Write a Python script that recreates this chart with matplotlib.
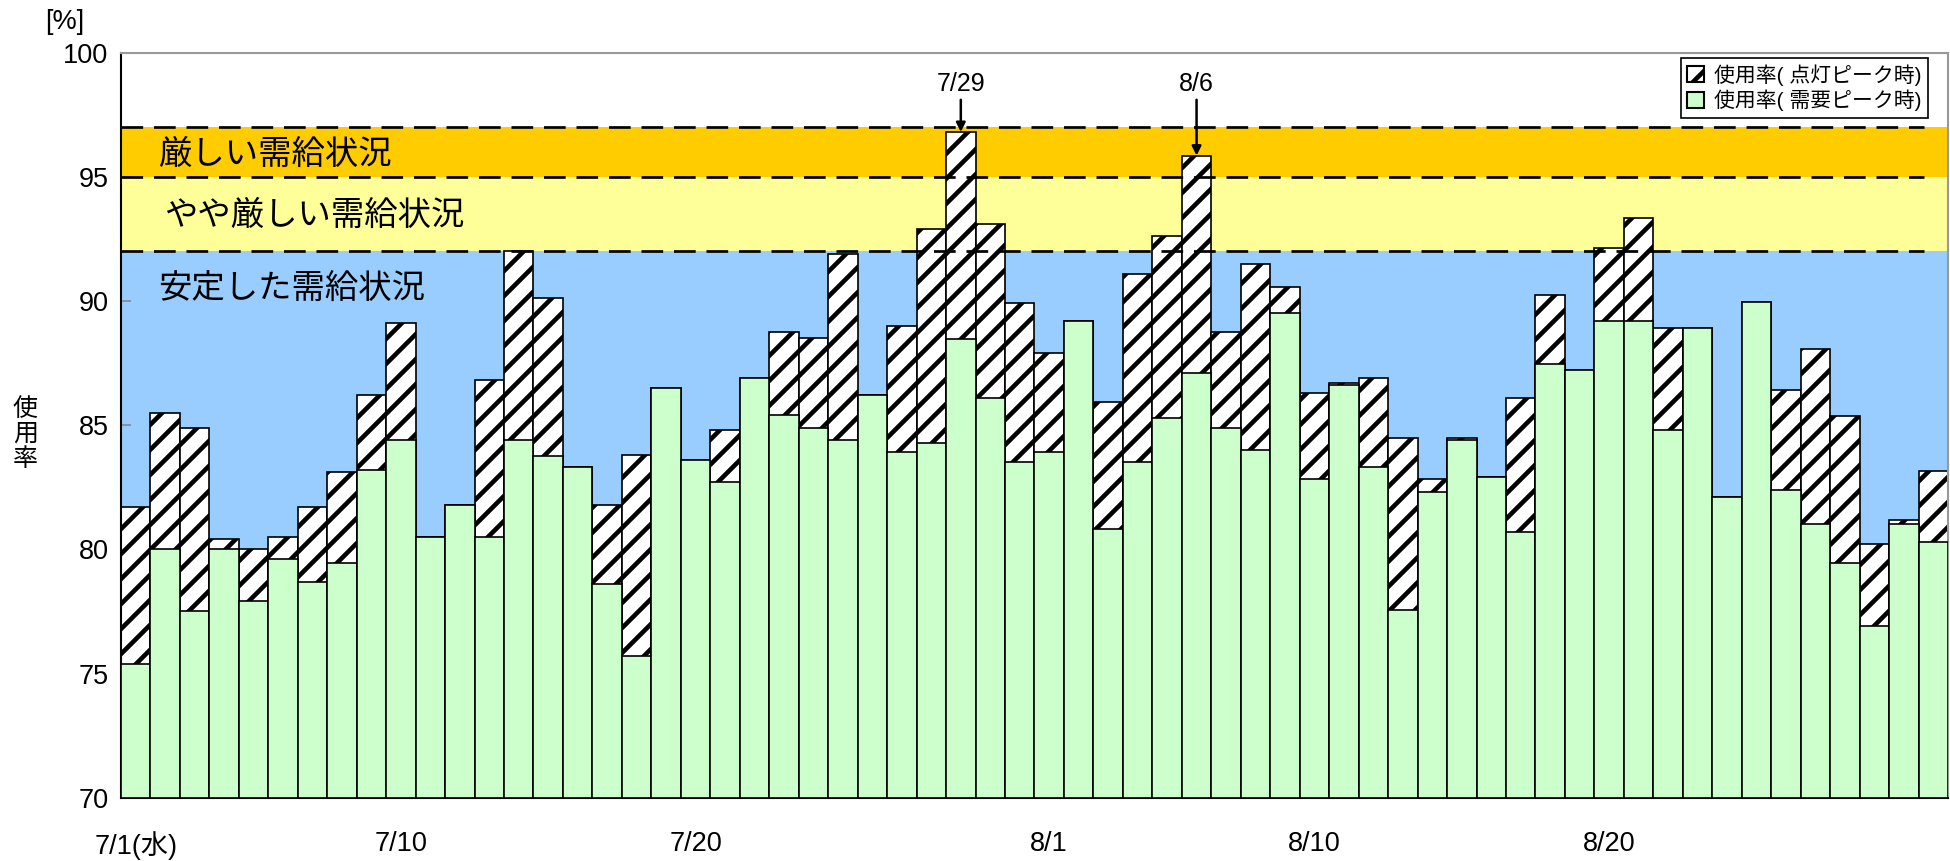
"""
Daily usage rate chart (July - August): lighting peak vs demand peak.
"""

import matplotlib
matplotlib.use("Agg")
import matplotlib.pyplot as plt
from matplotlib.patches import Patch
import numpy as np

plt.rcParams["font.family"] = ["Liberation Sans", "Noto Sans CJK JP", "DejaVu Sans"]
plt.rcParams["hatch.linewidth"] = 2.2

# usage rate at lighting peak (hatched), 7/1 .. 8/31
lighting_peak = [
    81.7, 85.5, 84.9, 80.4, 80.0, 80.5, 81.7, 83.1, 86.2, 89.1,
    80.5, 81.8, 86.8, 92.0, 90.1, 83.3, 81.8, 83.8, 86.5, 83.6,
    84.8, 86.9, 88.75, 88.5, 91.9, 86.2, 89.0, 92.9, 96.8, 93.1,
    89.9, 87.9, 89.2, 85.95, 91.1, 92.6, 95.85, 88.75, 91.5, 90.55,
    86.3, 86.7, 86.9, 84.5, 82.85, 84.5, 82.9, 86.1, 90.25, 87.2,
    92.15, 93.35, 88.9, 88.9, 82.1, 89.95, 86.4, 88.05, 85.35, 80.2,
    81.2, 83.15,
]
# usage rate at demand peak (green)
demand_peak = [
    75.4, 80.0, 77.5, 80.0, 77.9, 79.6, 78.7, 79.45, 83.2, 84.4,
    80.5, 81.8, 80.5, 84.4, 83.75, 83.3, 78.6, 75.7, 86.5, 83.6,
    82.7, 86.9, 85.4, 84.9, 84.4, 86.2, 83.9, 84.3, 88.45, 86.1,
    83.5, 83.9, 89.2, 80.8, 83.5, 85.3, 87.1, 84.9, 84.0, 89.5,
    82.85, 86.6, 83.3, 77.55, 82.3, 84.4, 82.9, 80.7, 87.45, 87.2,
    89.2, 89.2, 84.8, 88.9, 82.1, 89.95, 82.4, 81.0, 79.45, 76.9,
    81.0, 80.3,
]
tick_days = [1, 10, 20, 32, 41, 51]
tick_labels = ["7/1(水)", "7/10", "7/20", "8/1", "8/10", "8/20"]

# supply situation bands: (lower, upper, colour, label)
bands = [
    (70, 92, "#99CCFF", "安定した需給状況"),
    (92, 95, "#FFFF99", "やや厳しい需給状況"),
    (95, 97, "#FFCC00", "厳しい需給状況"),
]
band_label_y = [90.45, 93.4, 95.85]

peak_days = [29, 37]
peak_labels = ["7/29", "8/6"]

days = np.arange(1, len(demand_peak) + 1)

fig = plt.figure(figsize=(13, 5.74), dpi=150)
ax = fig.add_axes([0.062, 0.0735, 0.937, 0.8655])

for (lo, hi, color, label), ty in zip(bands, band_label_y):
    ax.axhspan(lo, hi, color=color, zorder=0, lw=0)
    x0 = 1.75 if label != "やや厳しい需給状況" else 1.95
    ax.text(x0, ty, label, fontsize=16, va="center", ha="left", zorder=5)

for level in [92, 95, 97]:
    ax.axhline(level, xmin=0, xmax=0.987, color="black", lw=1.3,
               linestyle=(0, (8, 4)), zorder=4)

ax.bar(days, np.array(lighting_peak) - 70, bottom=70, width=1.0,
       facecolor="white", edgecolor="black", hatch="//", lw=0.8, zorder=2)
ax.bar(days, np.array(demand_peak) - 70, bottom=70, width=1.0,
       facecolor="#CCFFCC", edgecolor="black", lw=0.8, zorder=3)

for d, lab in zip(peak_days, peak_labels):
    top = lighting_peak[d - 1]
    ax.annotate(lab, xy=(d, top), xytext=(d, 98.75), ha="center", va="center",
                fontsize=12, zorder=6,
                arrowprops=dict(arrowstyle="-|>", color="black", lw=1.2,
                                mutation_scale=9, shrinkA=0, shrinkB=0))

ax.set_xlim(0.5, len(days) + 0.5)
ax.set_ylim(70, 100)
ax.set_yticks(range(70, 101, 5))
ax.tick_params(axis="y", direction="in", length=5, width=0.8, color="#888888",
               labelsize=13, pad=6)
ax.set_xticks(tick_days)
ax.set_xticklabels(tick_labels)
ax.tick_params(axis="x", length=0, labelsize=13, pad=16)

for side in ["left", "bottom"]:
    ax.spines[side].set_color("black")
    ax.spines[side].set_linewidth(1.0)
for side in ["top", "right"]:
    ax.spines[side].set_color("#999999")
    ax.spines[side].set_linewidth(1.0)

fig.text(0.033, 0.975, "[%]", fontsize=13, ha="center", va="center")
fig.text(0.013, 0.496, "使\n用\n率", fontsize=12, ha="center", va="center",
         linespacing=1.05)

handles = [
    Patch(facecolor="white", edgecolor="black", hatch="//", label="使用率( 点灯ピーク時)"),
    Patch(facecolor="#CCFFCC", edgecolor="black", label="使用率( 需要ピーク時)"),
]
leg = ax.legend(handles=handles, loc="upper right", bbox_to_anchor=(0.989, 0.993),
                fontsize=10, fancybox=False, framealpha=1, edgecolor="black",
                borderaxespad=0, handlelength=0.8, handleheight=0.8,
                handletextpad=0.5, borderpad=0.3, labelspacing=0.2)
leg.get_frame().set_linewidth(0.8)
leg.set_zorder(7)

fig.savefig("out.png", dpi=150)
